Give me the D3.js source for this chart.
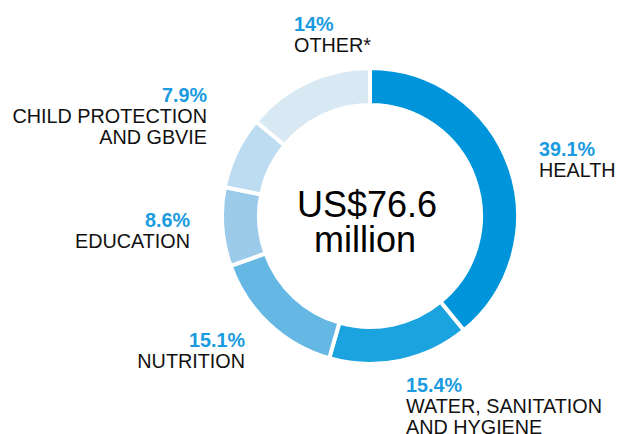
<!DOCTYPE html>
<html>
<head>
<meta charset="utf-8">
<script src="https://cdn.jsdelivr.net/npm/d3@7"></script>
<style>
  html, body { margin: 0; padding: 0; background: #fff; }
  svg { display: block; font-family: "Liberation Sans", Arial, Helvetica, sans-serif; }
</style>
</head>
<body>
<svg id="chart" width="618" height="434"></svg>
<script>
// ---- data ----
const categories = ["HEALTH", "WATER, SANITATION\nAND HYGIENE", "NUTRITION", "EDUCATION", "CHILD PROTECTION\nAND GBVIE", "OTHER*"];
const shares = [39.1, 15.4, 15.1, 8.6, 7.9, 14];
const shareLabels = ["39.1%", "15.4%", "15.1%", "8.6%", "7.9%", "14%"];
const centerLines = ["US$76.6", "million"];

// ---- styles / layout ----
const colors = ["#0095db", "#1ba3df", "#66b8e4", "#9ccbea", "#bddcf2", "#d8e9f4"];
const pctColor = "#1a9be0";
const cx = 370, cy = 216, rOuter = 148, rInner = 111;
// label anchor positions (x, baseline of percent line, text-anchor)
const labelLayout = [
  { x: 539, y: 156, anchor: "start" },
  { x: 406, y: 392, anchor: "start" },
  { x: 245, y: 347, anchor: "end" },
  { x: 190, y: 227, anchor: "end" },
  { x: 207, y: 102, anchor: "end" },
  { x: 294, y: 31, anchor: "start" }
];

const svg = d3.select("#chart");
const pie = d3.pie().sort(null).value(d => d).startAngle(0).endAngle(2 * Math.PI);
const arc = d3.arc().innerRadius(rInner).outerRadius(rOuter);
const arcs = pie(shares);

const g = svg.append("g").attr("transform", `translate(${cx},${cy})`);
g.selectAll("path")
  .data(arcs)
  .join("path")
  .attr("d", arc)
  .attr("fill", (d, i) => colors[i])
  .attr("stroke", "#fff")
  .attr("stroke-width", 4);

// center text
svg.append("text")
  .attr("x", 367).attr("y", 217)
  .attr("text-anchor", "middle")
  .attr("font-size", 36)
  .attr("fill", "#000")
  .text(centerLines[0]);
svg.append("text")
  .attr("x", 365).attr("y", 252)
  .attr("text-anchor", "middle")
  .attr("font-size", 36)
  .attr("fill", "#000")
  .text(centerLines[1]);

// labels
categories.forEach((cat, i) => {
  const L = labelLayout[i];
  const t = svg.append("text")
    .attr("x", L.x).attr("y", L.y)
    .attr("text-anchor", L.anchor);
  t.append("tspan")
    .attr("x", L.x)
    .attr("font-size", 19.8)
    .attr("font-weight", "bold")
    .attr("fill", pctColor)
    .text(shareLabels[i]);
  cat.split("\n").forEach((line, j) => {
    t.append("tspan")
      .attr("x", L.x)
      .attr("y", L.y + 21 * (j + 1))
      .attr("font-size", 19.8)
      .attr("fill", "#111")
      .text(line);
  });
});
</script>
</body>
</html>
